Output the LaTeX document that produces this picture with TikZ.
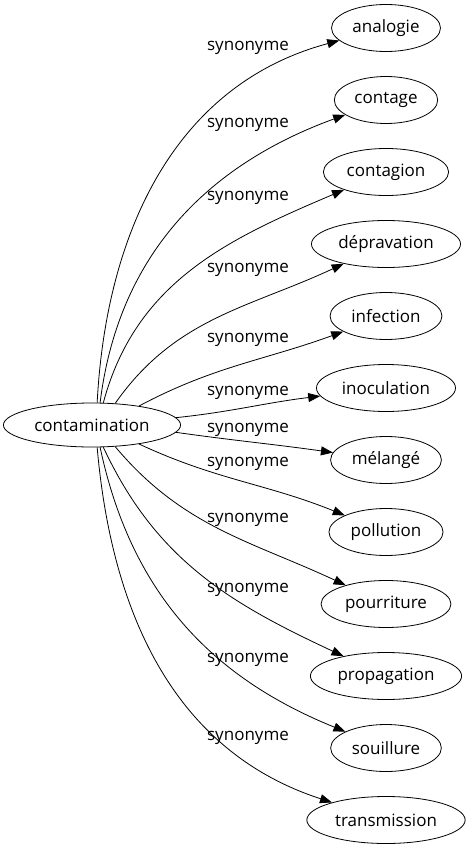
\documentclass[tikz,border=0pt]{standalone}
\usepackage{fontspec}
\setmainfont{Open Sans}
\usetikzlibrary{arrows.meta,shapes.geometric}

\begin{document}
\begin{tikzpicture}[
  x=1pt, y=-1pt,
  font=\fontsize{17}{20}\selectfont,
  word/.style={ellipse, draw, line width=0.8pt, minimum height=47pt, inner xsep=5pt},
  lbl/.style={inner sep=0pt},
  ar/.style={-{Triangle[length=12pt, width=9pt]}, line width=0.8pt}]
\useasboundingbox (0,0) rectangle (472,851);

% ---- centre word -----------------------------------------------------
\node[word, minimum width=177pt, minimum height=44pt] (c) at (92,425) {contamination};

% ---- synonyms --------------------------------------------------------
\foreach \n/\t/\y/\ly/\a/\o/\i in {
    t1/analogie/28/48/77/87/195,
    t2/contage/100/125/70/83/200,
    t3/contagion/172/198/63/75/203,
    t4/dépravation/244/270/43/55/205,
    t5/infection/316/340/22/28/200,
    t6/inoculation/388/393/5/6/187,
    t7/mélangé/460/430/-5/-8/172,
    t8/pollution/532/464/-22/-25/158,
    t9/pourriture/604/520/-43/-50/155,
    t10/propagation/676/590/-63/-65/155,
    t11/souillure/748/660/-70/-78/158,
    t12/transmission/820/738/-77/-85/162} {
  \node[word] (\n) at (386,\y) {\t};
  \node[lbl] (l\n) at (248,\ly) {synonyme};
  \draw[ar] (c.\a) to[out=\o, in=\i] (\n);
}
\end{tikzpicture}
\end{document}
